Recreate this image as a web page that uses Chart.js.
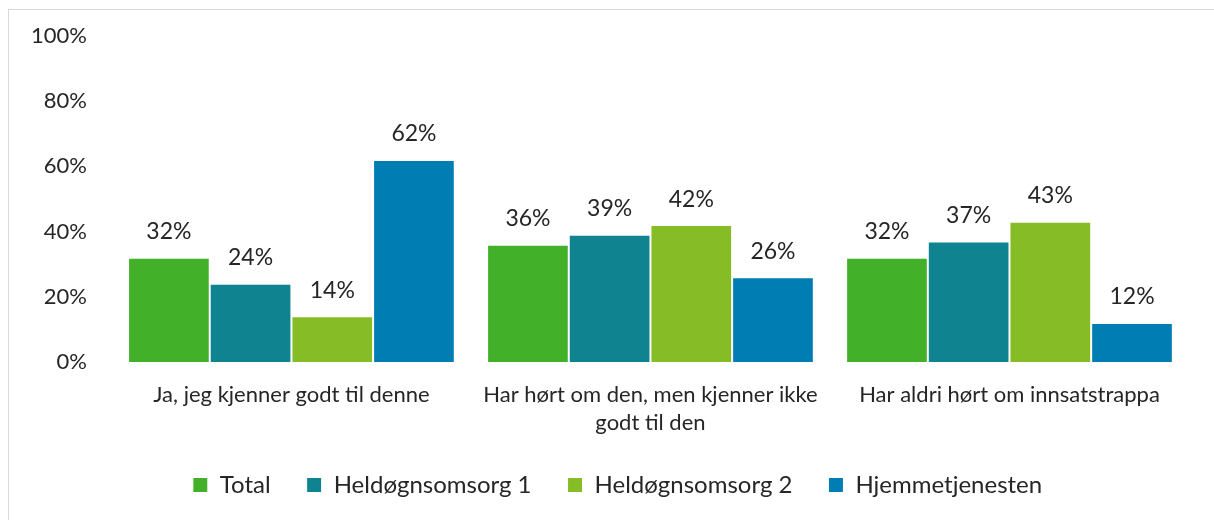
<!DOCTYPE html>
<html>
<head>
<meta charset="utf-8">
<script src="https://cdn.jsdelivr.net/npm/chart.js@4.4.1/dist/chart.umd.min.js"></script>
<style>
  html, body { margin: 0; padding: 0; background: #fff; }
  #wrap { position: relative; width: 1214px; height: 520px; overflow: hidden; }
  #frame { position: absolute; left: 8px; top: 9px; width: 1220px; height: 530px; border: 1px solid #d9d9d9; box-sizing: border-box; pointer-events: none; }
  canvas { position: absolute; left: 0; top: 0; }
</style>
</head>
<body>
<div id="wrap">
  <canvas id="c" width="1214" height="520"></canvas>
  <div id="frame"></div>
</div>
<script>
const categories = [
  "Ja, jeg kjenner godt til denne",
  ["Har hørt om den, men kjenner ikke", "godt til den"],
  "Har aldri hørt om innsatstrappa"
];
const seriesNames = ["Total", "Heldøgnsomsorg 1", "Heldøgnsomsorg 2", "Hjemmetjenesten"];
const total = [32, 36, 32];
const heldogn1 = [24, 39, 37];
const heldogn2 = [14, 42, 43];
const hjemme = [62, 26, 12];
const yTicks = [0, 20, 40, 60, 80, 100];
const colors = ["#43B02A", "#0F838F", "#86BC25", "#007DB3"];

const FONT = "Lato";
const TXT = "#262626";

const valueLabels = {
  id: "valueLabels",
  afterDatasetsDraw(chart) {
    const ctx = chart.ctx;
    ctx.save();
    ctx.font = "23px " + FONT;
    ctx.fillStyle = TXT;
    ctx.textAlign = "center";
    ctx.textBaseline = "middle";
    chart.data.datasets.forEach((ds, i) => {
      chart.getDatasetMeta(i).data.forEach((bar, j) => {
        ctx.fillText(ds.data[j] + "%", bar.x, bar.y - 26);
      });
    });
    ctx.restore();
  }
};

const legendShift = {
  id: "legendShift",
  afterLayout(chart) {
    if (chart.legend) {
      chart.legend.left += 20;
      chart.legend.right += 20;
    }
  }
};

new Chart(document.getElementById("c"), {
  type: "bar",
  data: {
    labels: categories,
    datasets: [total, heldogn1, heldogn2, hjemme].map((d, i) => ({
      label: seriesNames[i],
      data: d,
      backgroundColor: colors[i],
      borderColor: "#ffffff",
      borderWidth: 1,
      categoryPercentage: 0.91,
      barPercentage: 1.0
    }))
  },
  options: {
    responsive: false,
    animation: false,
    devicePixelRatio: 1,
    layout: { padding: { left: 6, right: 25, top: 36, bottom: 13 } },
    scales: {
      y: {
        min: 0, max: 100,
        afterBuildTicks(axis) { axis.ticks = yTicks.map(v => ({ value: v })); },
        afterFit(axis) { axis.paddingTop = 0; },
        grid: { display: false, drawTicks: false },
        border: { display: false },
        ticks: { padding: 25, color: TXT, font: { family: FONT, size: 22 }, callback: v => v + "%" }
      },
      x: {
        afterFit(axis) { axis.height = 75; },
        grid: { display: false, drawTicks: false },
        border: { display: false },
        ticks: { padding: 19, maxRotation: 0, autoSkip: false, color: TXT, font: { family: FONT, size: 22, lineHeight: 28 / 22 } }
      }
    },
    plugins: {
      legend: {
        position: "bottom",
        labels: { boxWidth: 15, boxHeight: 15, padding: 36, color: TXT, font: { family: FONT, size: 24 } }
      },
      tooltip: { enabled: false }
    }
  },
  plugins: [valueLabels, legendShift]
});
</script>
</body>
</html>
